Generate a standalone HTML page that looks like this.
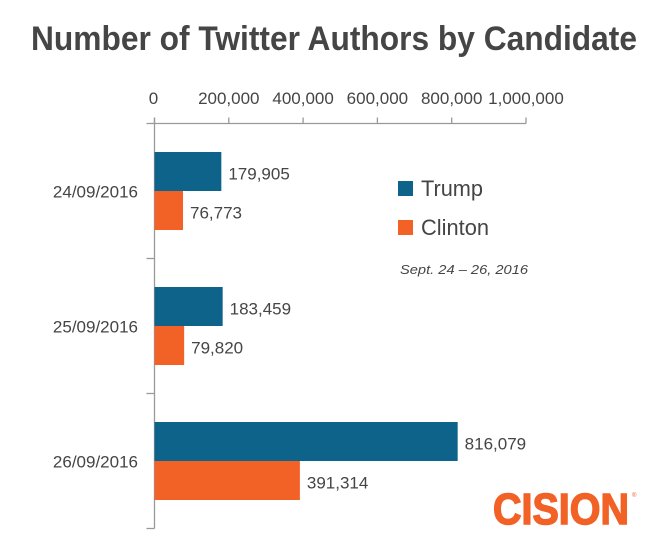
<!DOCTYPE html>
<html><head><meta charset="utf-8"><style>
html,body{margin:0;padding:0;background:#fff;}
svg{display:block;font-family:"Liberation Sans Narrow","Liberation Sans",sans-serif;}
</style></head><body>
<svg id="chart" width="651" height="539" viewBox="0 0 651 539">
<text x="334" y="50" text-anchor="middle" font-size="34" font-weight="bold" fill="#454545" textLength="606" lengthAdjust="spacingAndGlyphs">Number of Twitter Authors by Candidate</text>
<g id="axes"></g>
<g id="bars"></g>
<g>
<rect x="398" y="181" width="15" height="15" fill="#0d6389"/>
<text x="421" y="196" font-size="22" fill="#454545" textLength="62" lengthAdjust="spacingAndGlyphs">Trump</text>
<rect x="398" y="220" width="15" height="15" fill="#f26125"/>
<text x="421" y="235" font-size="22" fill="#454545" textLength="68" lengthAdjust="spacingAndGlyphs">Clinton</text>
</g>
<text x="400" y="274" font-size="13" font-style="italic" fill="#454545" textLength="128" lengthAdjust="spacingAndGlyphs">Sept. 24 – 26, 2016</text>
<text x="493" y="524" font-size="44" font-weight="bold" fill="#f26125" stroke="#f26125" stroke-width="1.5" textLength="136" lengthAdjust="spacingAndGlyphs" font-family="Liberation Sans, sans-serif">CISION</text>
<text x="632" y="497" font-size="6" fill="#f26125">®</text>
</svg>
<script>
const categories = ["24/09/2016","25/09/2016","26/09/2016"];
const trump = [179905,183459,816079];
const clinton = [76773,79820,391314];
const ticks = [0,200000,400000,600000,800000,1000000];
const tickLabels = ["0","200,000","400,000","600,000","800,000","1,000,000"];

const NS="http://www.w3.org/2000/svg";
const x0=154.5, pxPer=371.5/1000000, axisTop=123.5, groupH=135;
const xs=v=>x0+v*pxPer;
const fmt=v=>v.toLocaleString("en-US");
function mk(tag,attrs,parent,text){const e=document.createElementNS(NS,tag);for(const k in attrs)e.setAttribute(k,attrs[k]);if(text!==undefined)e.textContent=text;parent.appendChild(e);return e;}
const axes=document.getElementById("axes"), bars=document.getElementById("bars");
const gridColor="#999";
const axisBottom=axisTop+groupH*categories.length;
let l=mk("line",{x1:x0-8,x2:xs(1000000),y1:axisTop,y2:axisTop,stroke:gridColor,"stroke-width":1.3},axes);


l=mk("line",{x1:x0,x2:x0,y1:axisTop-6,y2:axisBottom,stroke:gridColor,"stroke-width":1.3},axes);


ticks.forEach((t,i)=>{
  const x=xs(t);
  const tk=mk("line",{x1:x,x2:x,y1:axisTop-6,y2:axisTop,stroke:gridColor,"stroke-width":1.3},axes);
  
  
  const tl=mk("text",{x:i===0?x-1:x,y:104,"text-anchor":"middle","font-size":17,fill:"#454545"},axes,tickLabels[i]);
  
  
});
for(let i=1;i<=categories.length;i++){
  const y=axisTop+groupH*i;
  const tk=mk("line",{x1:x0-8,x2:x0,y1:y,y2:y,stroke:gridColor,"stroke-width":1.3},axes);
  
  
}
categories.forEach((c,i)=>{
  const g=axisTop+groupH*i;
  const cl=mk("text",{x:138,y:g+74,"text-anchor":"end","font-size":17,fill:"#454545"},axes,c);
  
  
  const bt=mk("rect",{x:x0,y:g+28.5,width:xs(trump[i])-x0,height:39,fill:"#0d6389"},bars);
  
  
  const vt=mk("text",{x:xs(trump[i])+7,y:g+56,"font-size":17,fill:"#454545"},bars,fmt(trump[i]));
  
  
  const bc=mk("rect",{x:x0,y:g+67.5,width:xs(clinton[i])-x0,height:39,fill:"#f26125"},bars);
  
  
  const vc=mk("text",{x:xs(clinton[i])+7,y:g+95,"font-size":17,fill:"#454545"},bars,fmt(clinton[i]));
  
  
});
</script>
</body></html>
